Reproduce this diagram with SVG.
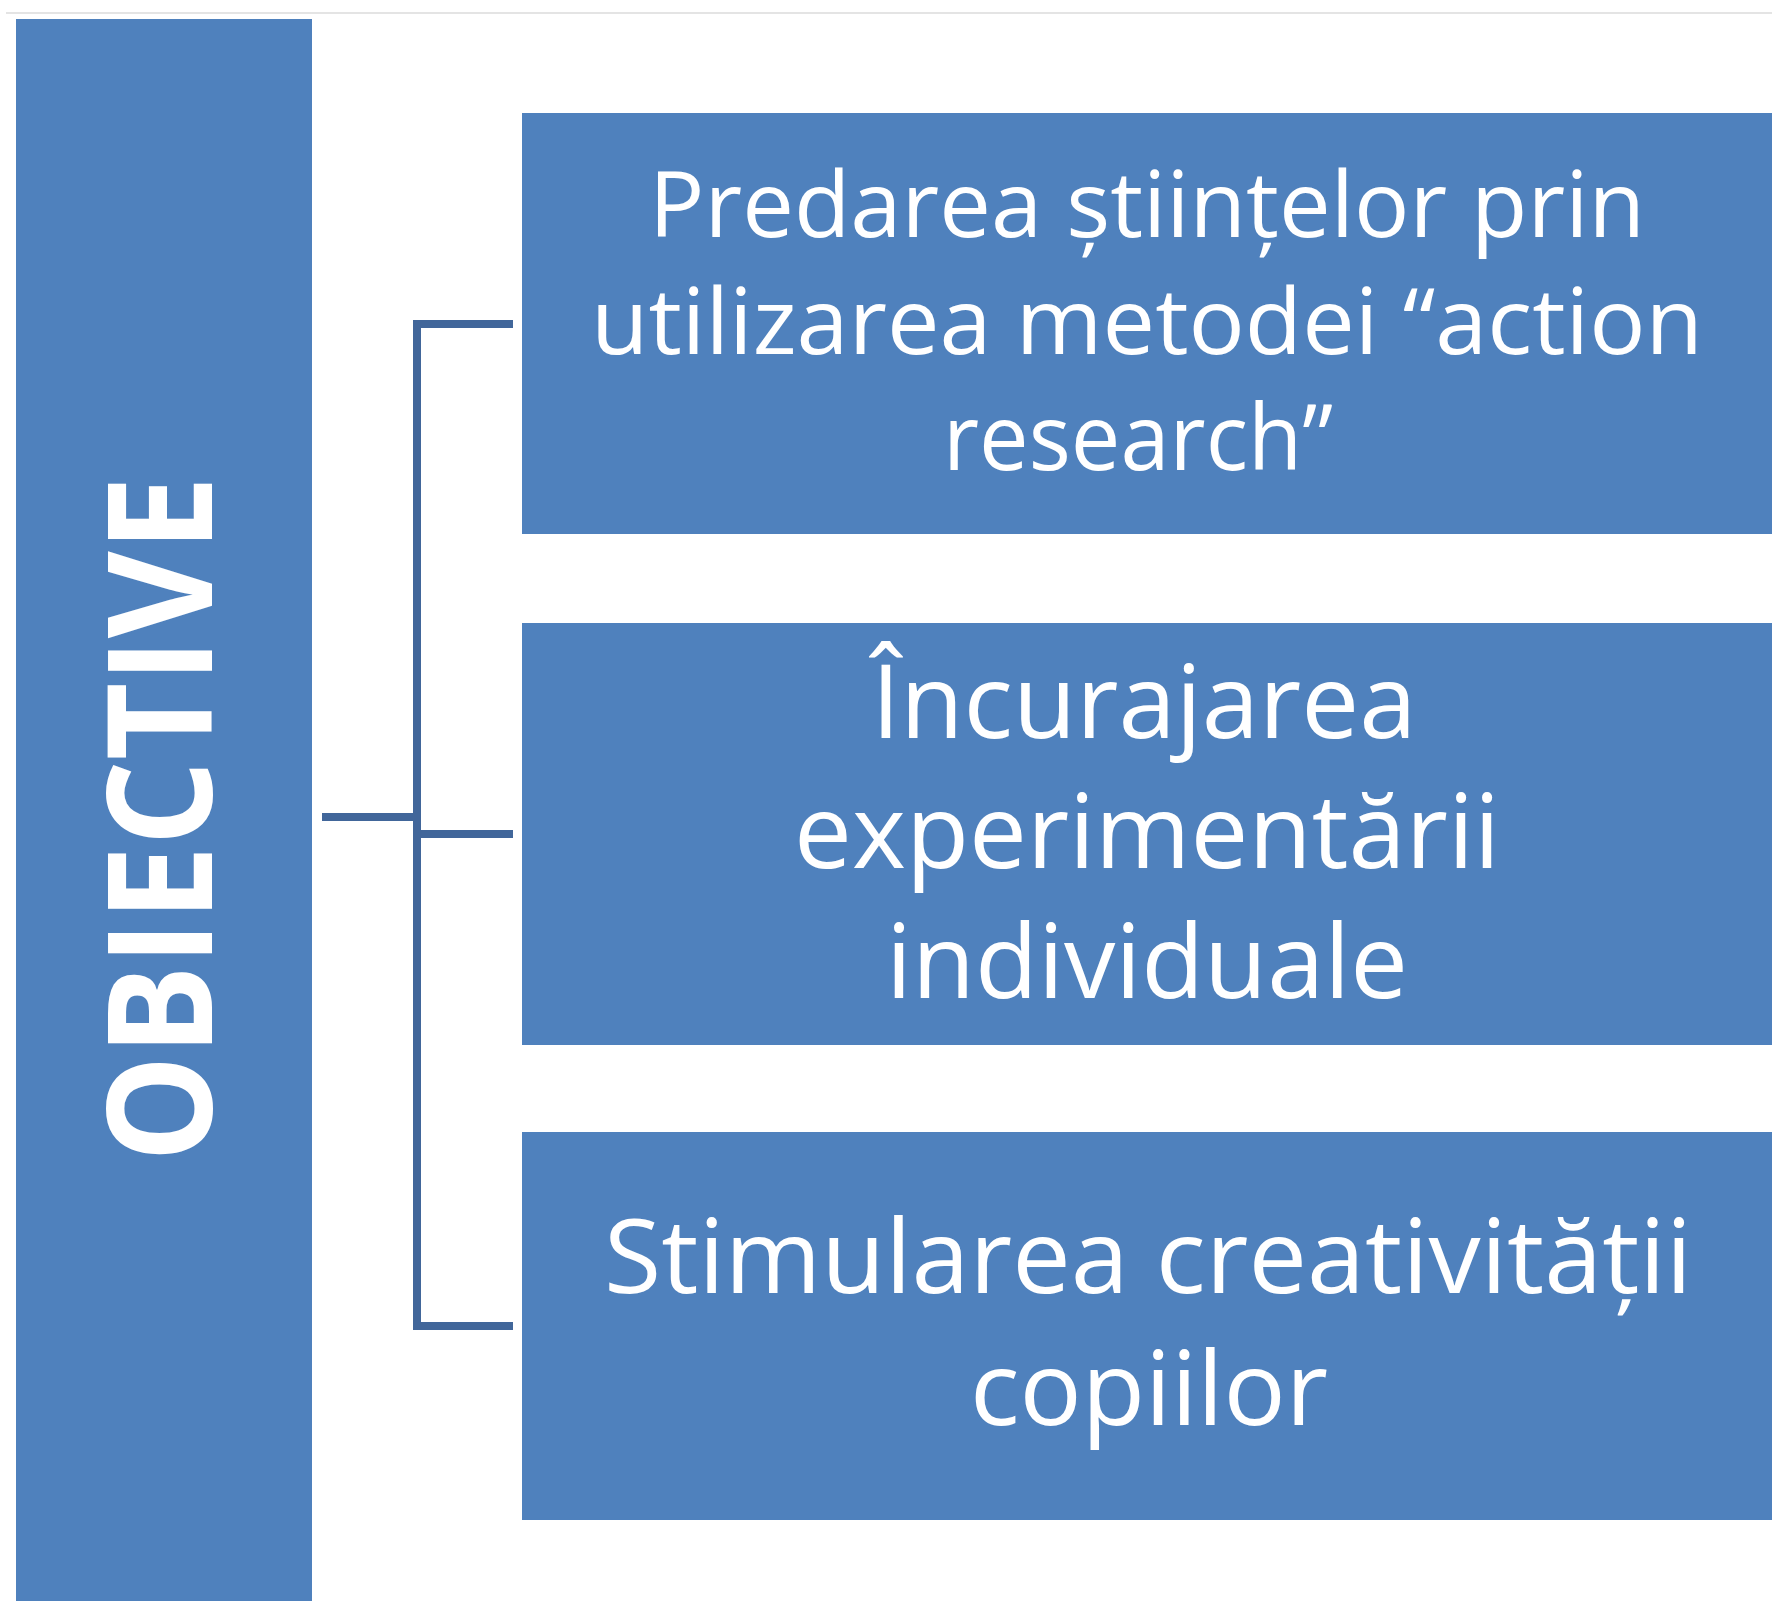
<svg xmlns="http://www.w3.org/2000/svg" width="1772" height="1601" viewBox="0 0 1772 1601">
<style>
.box{fill:#4F81BD;}
.t{font-family:"Open Sans","Liberation Sans",sans-serif;fill:#FFFFFF;text-anchor:middle;}
.t1{font-size:92px;}
.t2{font-size:102px;}
.title{font-family:"Open Sans","Liberation Sans",sans-serif;font-weight:bold;font-size:146px;fill:#FFFFFF;text-anchor:middle;}
.conn{fill:none;stroke:#41669A;stroke-width:8;stroke-linejoin:miter;stroke-linecap:butt;}
</style>
<rect x="0" y="0" width="1772" height="1601" fill="#FFFFFF"/>
<line x1="6" y1="13" x2="1772" y2="13" stroke="#E4E4E4" stroke-width="2"/>
<g id="objective">
<rect class="box" x="16" y="19" width="296" height="1582"/>
<text class="title" transform="translate(212,819) rotate(-90)" x="0" y="0" textLength="686" lengthAdjust="spacingAndGlyphs">OBIECTIVE</text>
</g>
<g id="connectors">
<path class="conn" d="M322 817 H417"/>
<path class="conn" d="M513 324 H417 V1326 H513"/>
<path class="conn" d="M417 834 H513"/>
</g>
<g id="box1">
<rect class="box" x="522" y="113" width="1250" height="421"/>
<text class="t t1" x="1147" y="237" textLength="996" lengthAdjust="spacingAndGlyphs">Predarea științelor prin</text>
<text class="t t1" x="1147" y="354" textLength="1112" lengthAdjust="spacingAndGlyphs">utilizarea metodei “action</text>
<text class="t t1" x="1138" y="470" textLength="390" lengthAdjust="spacingAndGlyphs">research”</text>
</g>
<g id="box2">
<rect class="box" x="522" y="623" width="1250" height="422"/>
<text class="t t2" x="1144" y="738" textLength="545" lengthAdjust="spacingAndGlyphs">Încurajarea</text>
<text class="t t2" x="1147" y="868" textLength="706" lengthAdjust="spacingAndGlyphs">experimentării</text>
<text class="t t2" x="1147" y="998" textLength="522" lengthAdjust="spacingAndGlyphs">individuale</text>
</g>
<g id="box3">
<rect class="box" x="522" y="1132" width="1250" height="388"/>
<text class="t t2" x="1148" y="1293" textLength="1088" lengthAdjust="spacingAndGlyphs">Stimularea creativității</text>
<text class="t t2" x="1149" y="1425" textLength="358" lengthAdjust="spacingAndGlyphs">copiilor</text>
</g>
</svg>
